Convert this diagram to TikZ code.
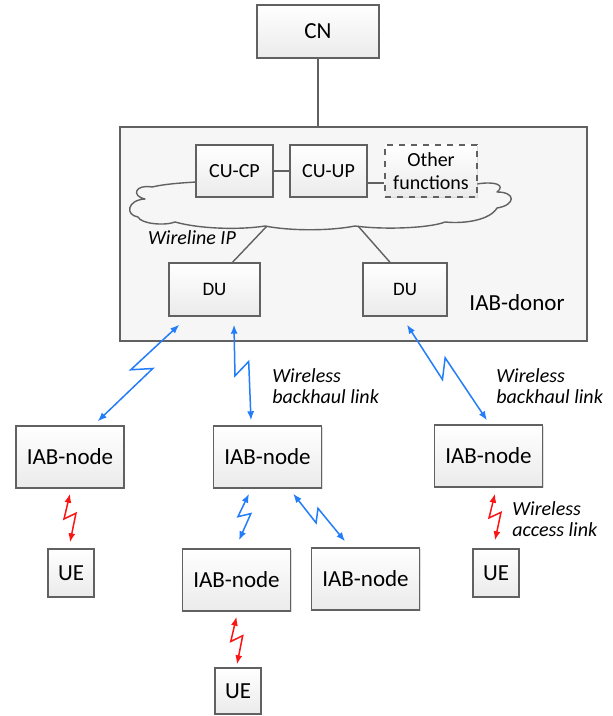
\documentclass[tikz,border=0pt]{standalone}
\usepackage{fontspec}
\setmainfont{Carlito}
\usepackage{tikz}
\usetikzlibrary{arrows.meta,calc,shadows}
\definecolor{linkblue}{RGB}{35,125,250}
\definecolor{linkred}{RGB}{250,20,20}
% lightning link: #1 offset, #2 style, #3 from, #4 to
\newcommand{\zaplink}[4][4pt]{%
	\coordinate (za) at #3;
	\coordinate (zb) at #4;
	\draw [#2] (za) -- ($(za)!0.52!(zb)!#1!-90:(zb)$) -- ($(za)!0.40!(zb)!#1!90:(zb)$) -- (zb);
}

\begin{document}
\begin{tikzpicture}[x=0.5pt,y=-0.5pt]
		\tikzstyle{box}=[draw=black!62,line width=0.7pt,top color=white,bottom color=gray!16,inner sep=0pt,align=center,
			drop shadow={shadow xshift=0.7pt,shadow yshift=-0.7pt,opacity=0.25}]
		\tikzstyle{iab-box}=[box,minimum width=54pt,minimum height=31pt,font=\fontsize{11.5}{13}\selectfont]
		\tikzstyle{ue-box}=[box,minimum width=23pt,minimum height=24pt,font=\fontsize{11.5}{13}\selectfont]
		\tikzstyle{du-box}=[box,minimum height=26.5pt,font=\fontsize{9.5}{11}\selectfont]
		\tikzstyle{cu-box}=[box,minimum width=38.5pt,minimum height=26pt,font=\fontsize{10}{11.7}\selectfont]
		\tikzstyle{wire}=[draw=black!62,line width=0.7pt]
		\tikzstyle{blue-link}=[linkblue,line width=0.75pt,{Latex[length=4.5pt,width=3.5pt]}-{Latex[length=4.5pt,width=3.5pt]}]
		\tikzstyle{red-link}=[linkred,line width=0.75pt,{Latex[length=4.5pt,width=3.5pt]}-{Latex[length=4.5pt,width=3.5pt]}]
		\tikzstyle{link-label}=[anchor=west,align=left,font=\fontsize{10}{10.5}\selectfont\itshape,inner sep=0pt]
		\useasboundingbox (0,0) rectangle (613,716);
		% core network
		\node [box,minimum width=61pt,minimum height=26.5pt,font=\fontsize{11.5}{13}\selectfont] at (318,31.5) (cn) {CN};
		% IAB-donor
		\node [draw=black!62,line width=0.7pt,fill=gray!7,minimum width=233.5pt,minimum height=107pt,
			drop shadow={shadow xshift=0.7pt,shadow yshift=-0.7pt,opacity=0.25}] at (353.5,234) (donor) {};
		\node [font=\fontsize{11.5}{13}\selectfont] at (517,303) (donor-label) {IAB-donor};
		\draw [wire] (cn.south) -- (cn.south |- donor.north);
		% wireline IP cloud (upper edge hidden behind the CU boxes)
		\draw [wire,line join=round] (196,182) .. controls (180,183) and (165,184) .. (152,187)
			.. controls (135,184) and (131,196) .. (145,199)
			.. controls (127,200) and (125,215) .. (138,217)
			.. controls (141,224) and (165,226) .. (175,222)
			.. controls (200,229) and (240,230) .. (265,226)
			.. controls (290,231) and (330,231) .. (355,226)
			.. controls (385,230) and (430,228) .. (445,222)
			.. controls (465,224) and (490,220) .. (497,208)
			.. controls (516,205) and (516,192) .. (497,192)
			.. controls (506,185) and (495,181) .. (477,184);
		\coordinate (cloud-l) at (267,226);
		\coordinate (cloud-r) at (358,226);
		\node [cu-box] at (234.5,171) (cucp) {CU-CP};
		\node [cu-box] at (328.5,171) (cuup) {CU-UP};
		\node [cu-box,dashed,minimum width=46pt] at (431,171) (other) {Other\\functions};
		\draw [wire] (cucp) -- (cuup);
		\draw [wire] ([shift={(0,12)}]cuup.east) -- ([shift={(0,12)}]other.west);
		\node [link-label,anchor=center] at (192,238) (wireline) {Wireline IP};
		\node [du-box,minimum width=45.5pt] at (214.5,289.5) (du1) {DU};
		\node [du-box,minimum width=42pt] at (405,289.5) (du2) {DU};
		\draw [wire] (cloud-l) -- ([shift={(18,0)}]du1.north);
		\draw [wire] (cloud-r) -- ([shift={(-15,0)}]du2.north);
		% IAB-nodes and UEs
		\node [iab-box] at (70,457) (iab1) {IAB-node};
		\node [iab-box] at (267.5,457) (iab2) {IAB-node};
		\node [iab-box] at (488.5,456) (iab3) {IAB-node};
		\node [iab-box] at (236.5,580) (iab4) {IAB-node};
		\node [iab-box] at (365.5,579) (iab5) {IAB-node};
		\node [ue-box] at (71,573) (ue1) {UE};
		\node [ue-box] at (496,573) (ue3) {UE};
		\node [ue-box,minimum height=23pt] at (238,691) (ue4) {UE};
		% wireless backhaul links
		\zaplink{blue-link}{([shift={(11,8)}]du1.south west)}{([shift={(-27,-4)}]iab1.north east)}
		\zaplink{blue-link}{([shift={(19.5,8)}]du1.south)}{([shift={(-16.5,-5)}]iab2.north)}
		\zaplink{blue-link}{([shift={(2,8)}]du2.south)}{([shift={(-1.5,-4)}]iab3.north)}
		\zaplink[3pt]{blue-link}{([shift={(-18.5,5)}]iab2.south)}{([shift={(2.5,-8)}]iab4.north)}
		\zaplink[3pt]{blue-link}{([shift={(-29,5)}]iab2.south east)}{([shift={(-20.5,-6)}]iab5.north)}
		% wireless access links
		\zaplink[3pt]{red-link}{([shift={(0,5)}]iab1.south)}{([shift={(-1,-6)}]ue1.north)}
		\zaplink[3pt]{red-link}{([shift={(0,5)}]iab4.south)}{([shift={(-1,-3)}]ue4.north)}
		\zaplink[3pt]{red-link}{([shift={(6.5,6)}]iab3.south)}{([shift={(-1,-8)}]ue3.north)}
		% labels
		\node [link-label] at (272,386) (bh1) {Wireless\\backhaul link};
		\node [link-label] at (496,386) (bh2) {Wireless\\backhaul link};
		\node [link-label] at (512,519) (acc) {Wireless\\access link};
	\end{tikzpicture}
\end{document}
